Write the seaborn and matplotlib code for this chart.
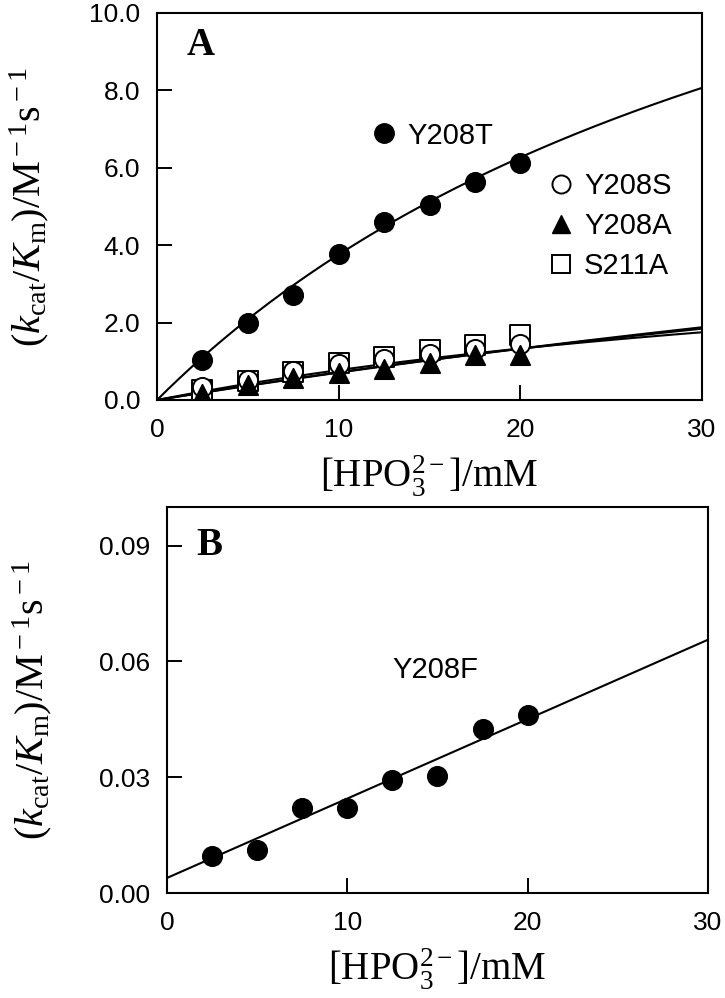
import numpy as np
import pandas as pd
import matplotlib
matplotlib.use("Agg")
import matplotlib.pyplot as plt
import seaborn as sns
from matplotlib.lines import Line2D

# data
conc = [2.5, 5.0, 7.5, 10.0, 12.5, 15.0, 17.5, 20.0]   # [HPO3 2-] / mM
y208t = [1.04, 1.99, 2.72, 3.78, 4.60, 5.04, 5.64, 6.12]
y208s = [0.33, 0.52, 0.76, 0.92, 1.05, 1.18, 1.33, 1.45]
y208a = [0.16, 0.40, 0.56, 0.70, 0.80, 0.96, 1.15, 1.17]
s211a = [0.26, 0.48, 0.72, 0.95, 1.12, 1.30, 1.43, 1.68]
y208f = [0.0095, 0.0112, 0.0220, 0.0220, 0.0293, 0.0302, 0.0424, 0.0461]

# fitted curves: saturation form kmax*x/(Kd+x) for panel A, straight line for B
fit_t = (18.9, 40.3)
fit_s = (10.9, 144.0)
fit_a = (4.76, 51.6)
fit_s211 = (8.6, 110.0)
fit_f = (0.0039, 0.002057)   # intercept, slope

sns.set_style("ticks", {"axes.edgecolor": "black", "text.color": "black",
                        "xtick.color": "black", "ytick.color": "black",
                        "axes.labelcolor": "black"})
plt.rcParams['font.family'] = ['Liberation Sans', 'DejaVu Sans']
plt.rcParams['mathtext.fontset'] = 'custom'
plt.rcParams['mathtext.rm'] = 'Liberation Serif'
plt.rcParams['mathtext.it'] = 'Liberation Serif:italic'
plt.rcParams['mathtext.bf'] = 'Liberation Serif:bold'

fig = plt.figure(figsize=(7.25, 9.98), dpi=100)
axA = fig.add_axes([0.2166, 0.5992, 0.7517, 0.3878])
axB = fig.add_axes([0.2303, 0.1052, 0.7462, 0.3868])

xfit = np.linspace(0, 30, 200)

def sat(p):
    return p[0] * xfit / (p[1] + xfit)

# ---- panel A
for p in [fit_t, fit_s, fit_a, fit_s211]:
    sns.lineplot(x=xfit, y=sat(p), color='black', lw=1.5, ax=axA, legend=False)

mk = dict(s=190, edgecolor='black', linewidth=1.4, zorder=3, legend=False)
sns.scatterplot(x=conc, y=s211a, marker='s', facecolor='white', ax=axA, **mk)
sns.scatterplot(x=conc, y=y208s, marker='o', facecolor='white', ax=axA, **mk)
sns.scatterplot(x=conc, y=y208a, marker='^', color='black', ax=axA, **mk)
sns.scatterplot(x=conc, y=y208t, marker='o', color='black', ax=axA, **mk)

axA.set_xlim(0, 30)
axA.set_ylim(0, 10)
axA.set_xticks([0, 10, 20, 30])
axA.set_yticks([0, 2, 4, 6, 8, 10])
axA.set_yticklabels(['0.0', '2.0', '4.0', '6.0', '8.0', '10.0'])

h_t = [Line2D([], [], ls='none', marker='o', ms=14, mfc='black', mec='black')]
leg1 = axA.legend(h_t, ['Y208T'], loc='center left', bbox_to_anchor=(0.365, 0.683),
                  frameon=False, fontsize=21, handletextpad=0.25, handlelength=1.1,
                  borderaxespad=0)
axA.add_artist(leg1)
h_rest = [Line2D([], [], ls='none', marker='o', ms=13, mfc='white', mec='black', mew=1.4),
          Line2D([], [], ls='none', marker='^', ms=13, mfc='black', mec='black'),
          Line2D([], [], ls='none', marker='s', ms=13, mfc='white', mec='black', mew=1.4)]
axA.legend(h_rest, ['Y208S', 'Y208A', 'S211A'], loc='upper left',
           bbox_to_anchor=(0.69, 0.62), frameon=False, fontsize=21,
           handletextpad=0.25, handlelength=1.1, labelspacing=0.42, borderaxespad=0)
axA.text(0.055, 0.915, 'A', transform=axA.transAxes, fontsize=28, fontweight='bold',
         family='Liberation Serif', va='center')

# ---- panel B
sns.lineplot(x=xfit, y=fit_f[0] + fit_f[1] * xfit, color='black', lw=1.5, ax=axB, legend=False)
sns.scatterplot(x=conc, y=y208f, marker='o', color='black', ax=axB, **mk)
axB.set_xlim(0, 30)
axB.set_ylim(0, 0.1)
axB.set_xticks([0, 10, 20, 30])
axB.set_yticks([0, 0.03, 0.06, 0.09])
axB.set_yticklabels(['0.00', '0.03', '0.06', '0.09'])
axB.text(14.9, 0.0577, 'Y208F', fontsize=21, ha='center', va='center')
axB.text(0.055, 0.90, 'B', transform=axB.transAxes, fontsize=28, fontweight='bold',
         family='Liberation Serif', va='center')

ylab = r'$(k_{\rm cat}/K_{\rm m})/{\rm M}^{\rm -1}{\rm s}^{\rm -1}$'
xlab = r'${\rm [HPO}_{\rm 3}^{\rm 2-}{\rm ]/mM}$'
for ax, ylx in [(axA, -0.195), (axB, -0.209)]:
    for sp in ax.spines.values():
        sp.set_linewidth(1.5)
        sp.set_visible(True)
    ax.tick_params(direction='in', length=10.5, width=1.4, labelsize=19,
                   top=False, right=False)
    ax.tick_params(axis='y', pad=12)
    ax.tick_params(axis='x', pad=13)
    ax.set_ylabel(ylab, fontsize=29)
    ax.set_xlabel(xlab, fontsize=28)
    ax.yaxis.set_label_coords(ylx, 0.5)
    ax.xaxis.set_label_coords(0.5, -0.138)
    ax.xaxis.label.set_va('top')

fig.savefig('out.png', dpi=100)
